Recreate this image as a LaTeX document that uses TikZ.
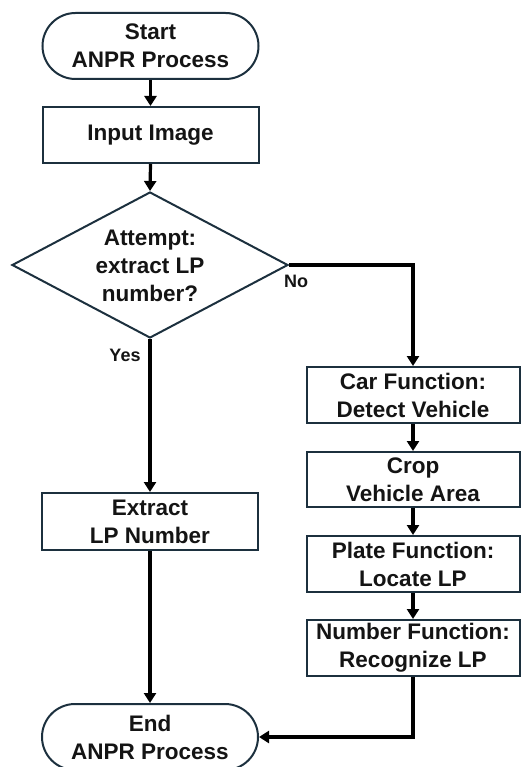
\documentclass[tikz,border=0pt]{standalone}
\usepackage{fontspec}
\setmainfont{Liberation Sans}
\usetikzlibrary{shapes.misc,shapes.geometric,arrows.meta}
\definecolor{boxline}{RGB}{28,48,62}
\definecolor{txt}{RGB}{20,20,20}
\begin{document}
\begin{tikzpicture}[x=1pt,y=-1pt,
  every node/.style={font=\fontsize{22.5}{28}\selectfont\bfseries, text=txt},
  term/.style={rounded rectangle, draw=boxline, line width=2pt, minimum width=216pt, minimum height=66pt, align=center, inner sep=0pt, fill=white},
  procbox/.style={rectangle, draw=boxline, line width=2pt, minimum width=216pt, align=center, inner sep=0pt, fill=white},
  rbox/.style={rectangle, draw=boxline, line width=2pt, minimum width=213pt, minimum height=56pt, align=center, inner sep=0pt, fill=white},
  conn/.style={draw=black, line width=3.2pt, -{Triangle[length=10pt,width=12pt]}},
  lbl/.style={font=\fontsize{18}{21}\selectfont\bfseries}
]
\useasboundingbox (0,0) rectangle (521,767);
\node[term] (start) at (150.5,46) {Start\\ANPR Process};
\node[procbox, minimum height=56pt] (input) at (150.5,135) {Input Image};
\node[diamond, draw=boxline, line width=2pt, minimum width=276pt, minimum height=146pt, inner sep=0pt, fill=white] (dec) at (150,265) {};
\node[align=center] (dectext) at (150,266) {Attempt:\\extract LP\\number?};
\node[procbox, minimum height=57pt] (extract) at (150,521.5) {Extract\\LP Number};
\node[term] (end) at (150,737) {End\\ANPR Process};
\node[rbox] (car) at (413,395) {Car Function:\\Detect Vehicle};
\node[rbox, minimum height=55pt] (crop) at (413,479.5) {Crop\\Vehicle Area};
\node[rbox] (plate) at (413,564) {Plate Function:\\Locate LP};
\node[rbox] (number) at (413,648) {Number Function:\\Recognize LP};
\draw[conn] (start.south) -- (input.north);
\draw[conn] (input.south) -- (dec.north);
\draw[conn] (dec.east) -| (car.north);
\node[lbl] (nolbl) at (296,281) {No};
\draw[conn] (dec.south) -- (extract.north);
\node[lbl] (yeslbl) at (125,355) {Yes};
\draw[conn] (extract.south) -- (end.north);
\draw[conn] (car.south) -- (crop.north);
\draw[conn] (crop.south) -- (plate.north);
\draw[conn] (plate.south) -- (number.north);
\draw[conn] (number.south) |- (end.east);
\end{tikzpicture}
\end{document}
